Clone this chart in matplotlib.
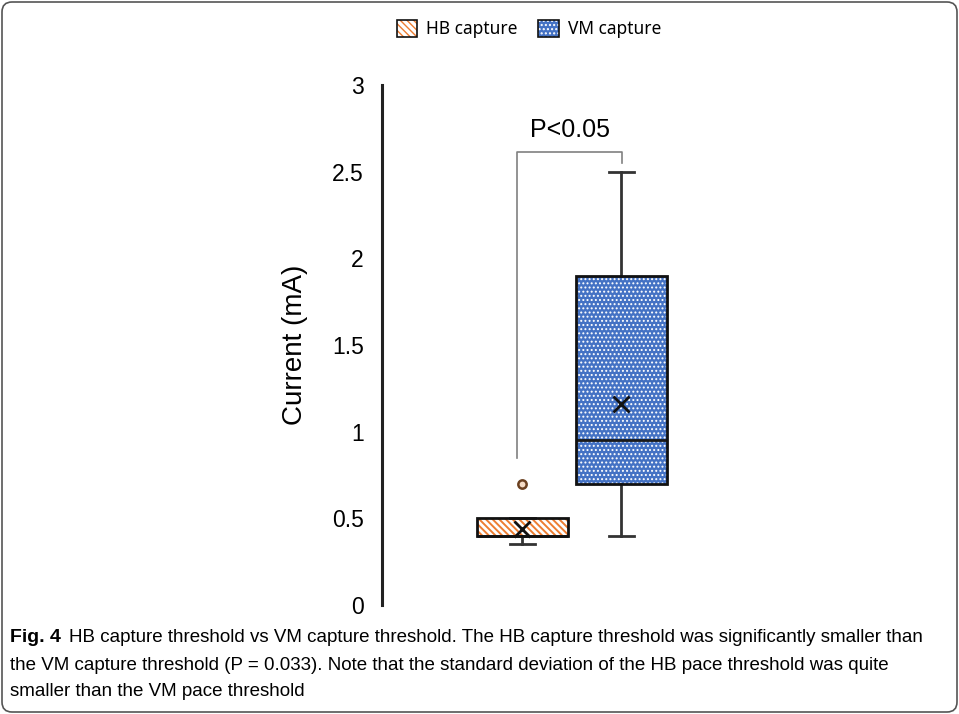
import numpy as np
import matplotlib
matplotlib.use("Agg")
import matplotlib.pyplot as plt
from matplotlib.patches import FancyBboxPatch, PathPatch, Patch
from matplotlib.legend_handler import HandlerTuple
from matplotlib.transforms import IdentityTransform

# values (mA)
groups = ["HB capture", "VM capture"]
q1 = [0.40, 0.70]
q3 = [0.50, 1.90]
medians = [0.40, 0.95]
means = [0.44, 1.16]
whis_lo = [0.35, 0.40]
whis_hi = [0.50, 2.50]
fliers = [[0.70], []]
p_text = "P<0.05"
yticks = [0, 0.5, 1, 1.5, 2, 2.5, 3]
yticklabels = ["0", "0.5", "1", "1.5", "2", "2.5", "3"]

face = ["white", "#4472C4"]
hatch_col = ["#ED7D31", "white"]
hatches = ["\\\\\\\\\\", "...."]
hatch_lw = [1.4, 0.9]

caption_bold = "Fig. 4"
caption = [
    "HB capture threshold vs VM capture threshold. The HB capture threshold was significantly smaller than",
    "the VM capture threshold (P = 0.033). Note that the standard deviation of the HB pace threshold was quite",
    "smaller than the VM pace threshold",
]


def style_hatch(p, i):
    p.set_facecolor(face[i])
    p.set_edgecolor(hatch_col[i])
    p.set_hatch(hatches[i])
    p.set_linewidth(0)
    if hasattr(p, "set_hatch_linewidth"):
        p.set_hatch_linewidth(hatch_lw[i])


W, H = 959, 714
fig = plt.figure(figsize=(W / 100, H / 100), dpi=100)
ax = fig.add_axes([382 / W, (H - 605) / H, (760 - 382) / W, 520 / H])

stats = []
for i, g in enumerate(groups):
    stats.append(dict(label=g, med=medians[i], q1=q1[i], q3=q3[i],
                      whislo=whis_lo[i], whishi=whis_hi[i],
                      mean=means[i], fliers=fliers[i]))

pos = [1, 2]
bp = ax.bxp(stats, positions=pos, widths=0.91, patch_artist=True,
            showmeans=True, showcaps=True, capwidths=0.26,
            boxprops=dict(linewidth=0),
            medianprops=dict(color="#1a1a1a", linewidth=2),
            whiskerprops=dict(color="#333333", linewidth=2),
            capprops=dict(color="#333333", linewidth=2),
            meanprops=dict(marker="x", markersize=11, markeredgecolor="#111111",
                           markeredgewidth=2),
            flierprops=dict(marker="o", markersize=6, markerfacecolor="#f6dcc6",
                            markeredgecolor="#6b4020", markeredgewidth=1.8))

for i, box in enumerate(bp["boxes"]):
    style_hatch(box, i)
    # dark outline drawn on top of the hatched fill
    ax.add_patch(PathPatch(box.get_path(), facecolor="none", edgecolor="#111111",
                           linewidth=2, zorder=box.get_zorder() + 0.5))

# significance bracket
bx = [0.944, 0.944, 2.005, 2.005]
by = [0.85, 2.614, 2.614, 2.55]
ax.plot(bx, by, color="#808080", lw=1.2, clip_on=False)
ax.text(1.48, 2.74, p_text, ha="center", va="center", fontsize=18,
        family="Liberation Sans")

ax.set_xlim(-0.419, 3.399)
ax.set_ylim(0, 3)
ax.set_yticks(yticks)
ax.set_yticklabels(yticklabels, family="Liberation Sans", fontsize=16.5)
ax.tick_params(axis="y", length=0, pad=13)
ax.set_xticks([])
for s in ["top", "right", "bottom"]:
    ax.spines[s].set_visible(False)
ax.spines["left"].set_linewidth(2.2)
ax.spines["left"].set_color("#222222")
ax.set_ylabel("Current (mA)", family="Liberation Sans", fontsize=20, labelpad=17)

handles = []
for i in range(2):
    fill = Patch()
    style_hatch(fill, i)
    edge = Patch(facecolor="none", edgecolor="#111111", linewidth=1.2)
    handles.append((fill, edge))
fig.legend(handles, groups, loc="center", bbox_to_anchor=(529 / W, 1 - 29 / H),
           ncol=2, frameon=False, prop=dict(family="Noto Sans", size=12.5),
           handlelength=1.2, handleheight=1.2, handletextpad=0.5,
           columnspacing=1.2, handler_map={tuple: HandlerTuple(ndivide=1, pad=0)})

# caption
cap_font = ["Liberation Sans Narrow", "Liberation Sans"]
fig.canvas.draw()
r = fig.canvas.get_renderer()
t0 = fig.text(10 / W, 1 - 638 / H, caption_bold, ha="left", va="center",
              fontsize=14, fontweight="bold", family=cap_font)
bb = t0.get_window_extent(r)
fig.text((bb.x1 + 8) / W, 1 - 638 / H, caption[0], ha="left", va="center",
         fontsize=13.5, family=cap_font)
fig.text(10 / W, 1 - 665 / H, caption[1], ha="left", va="center",
         fontsize=13.5, family=cap_font)
fig.text(10 / W, 1 - 691 / H, caption[2], ha="left", va="center",
         fontsize=13.5, family=cap_font)

# rounded frame around the whole figure
fig.patches.append(FancyBboxPatch((2, 2), W - 4, H - 4,
                                  boxstyle="round,pad=0,rounding_size=10",
                                  facecolor="none", edgecolor="#555555",
                                  linewidth=1.2, transform=IdentityTransform()))

fig.savefig("out.png", dpi=100)
